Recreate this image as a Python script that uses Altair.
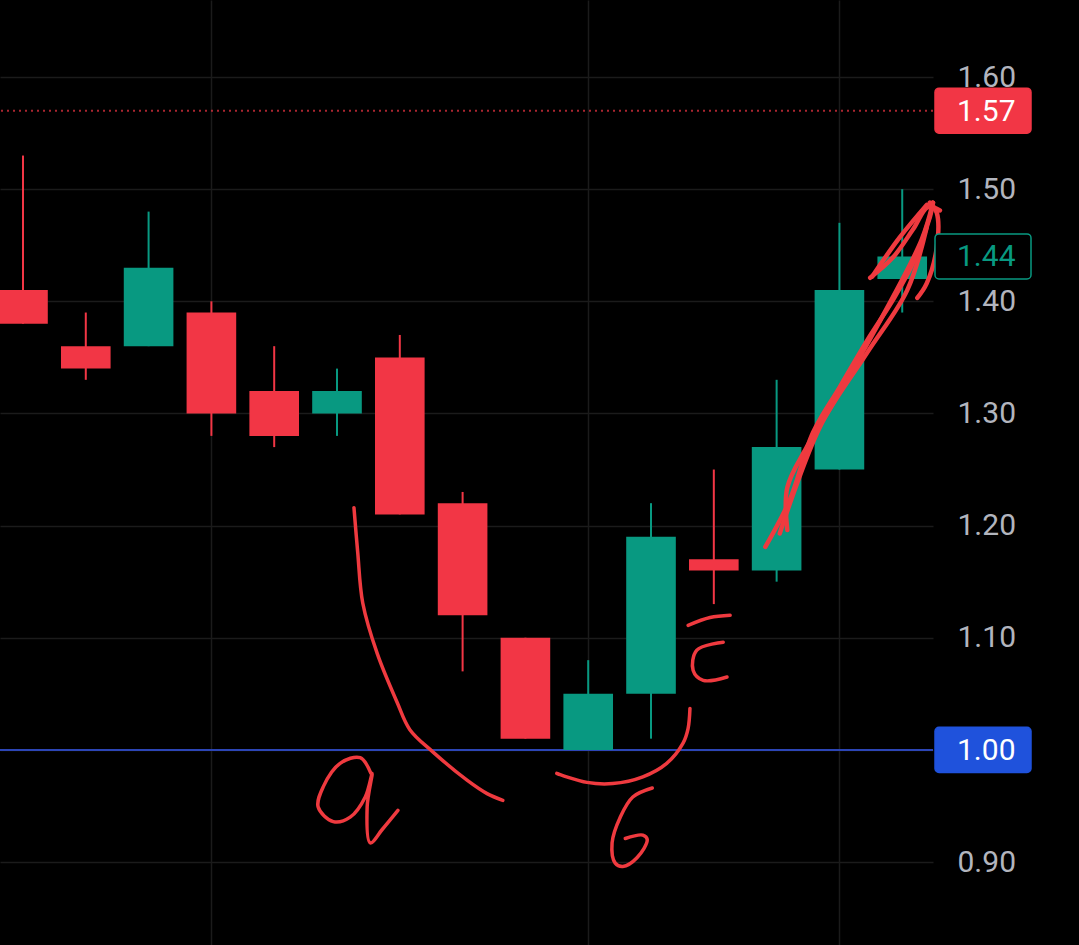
import altair as alt
import pandas as pd
import jinja2

# ---------------- data ----------------
bar_index = list(range(15))
opens  = [1.41, 1.36, 1.36, 1.39, 1.32, 1.30, 1.35, 1.22, 1.10, 1.00, 1.05, 1.17, 1.16, 1.25, 1.42]
highs  = [1.53, 1.39, 1.48, 1.40, 1.36, 1.34, 1.37, 1.23, 1.10, 1.08, 1.22, 1.25, 1.33, 1.47, 1.50]
lows   = [1.38, 1.33, 1.36, 1.28, 1.27, 1.28, 1.21, 1.07, 1.01, 1.00, 1.01, 1.13, 1.15, 1.25, 1.39]
closes = [1.38, 1.34, 1.43, 1.30, 1.28, 1.32, 1.21, 1.12, 1.01, 1.05, 1.19, 1.16, 1.27, 1.41, 1.44]

y_tick_values = [0.90, 1.00, 1.10, 1.20, 1.30, 1.40, 1.50, 1.60]
x_grid_bars = [3, 9, 13]

high_level = 1.57      # dotted line + red price tag
last_price = 1.44      # green outlined tag
support_level = 1.00   # blue line + blue tag

# hand-drawn annotation strokes, in (bar index, price) units
curve_a_x = [5.27, 5.33, 5.41, 5.64, 5.96, 6.16, 6.53, 7.07, 7.39, 7.64]
curve_a_y = [1.216, 1.176, 1.131, 1.086, 1.042, 1.018, 0.998, 0.973, 0.961, 0.955]
letter_a_x = [5.54, 5.37, 5.05, 4.78, 4.70, 4.94, 5.21, 5.45, 5.56, 5.48, 5.53, 5.72, 5.97]
letter_a_y = [0.979, 0.993, 0.988, 0.967, 0.949, 0.936, 0.940, 0.958, 0.979, 0.949, 0.917, 0.929, 0.946]
curve_b_x = [10.62, 10.59, 10.51, 10.25, 9.87, 9.39, 8.98, 8.50]
curve_b_y = [1.037, 1.019, 1.006, 0.988, 0.976, 0.970, 0.971, 0.979]
letter_b_x = [10.02, 9.71, 9.51, 9.38, 9.43, 9.55, 9.78, 9.94, 9.87, 9.59]
letter_b_y = [0.966, 0.958, 0.940, 0.917, 0.899, 0.896, 0.904, 0.920, 0.924, 0.921]
bar_c_x = [10.59, 10.94, 11.26]
bar_c_y = [1.111, 1.118, 1.120]
letter_c_x = [11.15, 10.73, 10.67, 10.83, 11.21]
letter_c_y = [1.096, 1.089, 1.071, 1.062, 1.065]
arrow1_x = [11.82, 12.21, 12.58, 13.01, 13.44, 13.85, 14.17, 14.44, 14.49]
arrow1_y = [1.181, 1.223, 1.283, 1.324, 1.365, 1.401, 1.434, 1.475, 1.488]
arrow2_x = [12.17, 12.17, 12.48, 12.96, 13.65, 14.31, 14.49]
arrow2_y = [1.196, 1.234, 1.270, 1.315, 1.383, 1.455, 1.488]
arrow3_x = [12.05, 12.69, 13.44, 14.08, 14.39]
arrow3_y = [1.193, 1.288, 1.354, 1.410, 1.466]
head1_x = [13.49, 13.85, 14.17, 14.41, 14.60]
head1_y = [1.421, 1.439, 1.464, 1.484, 1.481]
head2_x = [13.52, 13.96, 14.39]
head2_y = [1.422, 1.457, 1.486]
head3_x = [14.24, 14.39, 14.55, 14.55, 14.44]
head3_y = [1.403, 1.416, 1.448, 1.479, 1.488]

# ---------------- tables ----------------
candles = pd.DataFrame(dict(i=bar_index, open=opens, high=highs, low=lows, close=closes))


def strokes_table(strokes):
    rows = []
    for name, xs, ys in strokes:
        for k, (a, b) in enumerate(zip(xs, ys)):
            rows.append(dict(stroke=name, ord=k, ax=a, ay=b))
    return pd.DataFrame(rows)


thin_strokes = strokes_table([
    ("curve_a", curve_a_x, curve_a_y),
    ("letter_a", letter_a_x, letter_a_y),
    ("curve_b", curve_b_x, curve_b_y),
    ("letter_b", letter_b_x, letter_b_y),
    ("bar_c", bar_c_x, bar_c_y),
    ("letter_c", letter_c_x, letter_c_y),
])
arrow_strokes = strokes_table([
    ("a1", arrow1_x, arrow1_y),
    ("a2", arrow2_x, arrow2_y),
    ("a3", arrow3_x, arrow3_y),
    ("h1", head1_x, head1_y),
    ("h2", head2_x, head2_y),
    ("h3", head3_x, head3_y),
])

# ---------------- styling ----------------
RED = "#f23645"
GREEN = "#089981"
BLUE_LINE = "#2c45b5"
BLUE_TAG = "#1f52dc"
INK = "#ef3a3f"
GRID = "#1b1b1b"
FONT = "Roboto"

xs = alt.Scale(domain=[-0.366, 14.49], nice=False, zero=False)
ys = alt.Scale(domain=[0.826, 1.6687], nice=False, zero=False)
x_ax = alt.Axis(values=x_grid_bars, grid=True, labels=False, ticks=False, domain=False,
                title=None, gridColor=GRID, gridWidth=1.5)
y_ax = alt.Axis(orient="right", values=y_tick_values, format=".2f", grid=True, ticks=False,
                domain=False, title=None, labelPadding=24, labelFont=FONT, labelFontSize=30,
                labelColor="#b2b5be", labelAlign="left", labelBaseline="middle",
                gridColor=GRID, gridWidth=1.5, labelOverlap=False)

X = lambda f: alt.X(f, scale=xs, axis=x_ax)
Y = lambda f: alt.Y(f, scale=ys, axis=y_ax)
candle_color = alt.condition("datum.close >= datum.open", alt.value(GREEN), alt.value(RED))

base = alt.Chart(candles)

bodies = base.transform_calculate(
    x0="datum.i - 0.395", x1="datum.i + 0.395",
).mark_rect().encode(
    x=X("x0:Q"), x2="x1:Q", y=Y("open:Q"), y2="close:Q", color=candle_color
)
wicks = base.mark_rule(strokeWidth=2).encode(
    x=X("i:Q"), y=Y("low:Q"), y2="high:Q", color=candle_color
)

levels = pd.DataFrame(dict(v=[high_level, support_level]))
dotted = alt.Chart(pd.DataFrame(dict(v=[high_level]))).mark_rule(
    color=RED, opacity=0.7, strokeWidth=2, strokeDash=[2, 4]
).encode(y=Y("v:Q"))
blue_line = alt.Chart(pd.DataFrame(dict(v=[support_level]))).mark_rule(
    color=BLUE_LINE, strokeWidth=2
).encode(y=Y("v:Q"))

thin = alt.Chart(thin_strokes).mark_line(
    color=INK, strokeWidth=3.5, interpolate="catmull-rom", strokeCap="round", strokeJoin="round"
).encode(x=X("ax:Q"), y=Y("ay:Q"), detail="stroke:N", order="ord:Q")
arrow = alt.Chart(arrow_strokes).mark_line(
    color=INK, strokeWidth=4.5, interpolate="catmull-rom", strokeCap="round", strokeJoin="round"
).encode(x=X("ax:Q"), y=Y("ay:Q"), detail="stroke:N", order="ord:Q")


def tag(value, fill, stroke, text_color):
    d = alt.Chart(pd.DataFrame(dict(v=[value], label=[f"{value:.2f}"]))).transform_calculate(
        top="datum.v + 0.0201", bot="datum.v - 0.0201"
    )
    box = d.mark_rect(fill=fill, stroke=stroke, strokeWidth=1.5, cornerRadius=4).encode(
        x=alt.value(935), x2=alt.value(1031), y=Y("top:Q"), y2="bot:Q"
    )
    txt = d.mark_text(align="left", baseline="middle", font=FONT, fontSize=30,
                      color=text_color, dy=1).encode(
        x=alt.value(957), y=Y("v:Q"), text="label:N"
    )
    return [box, txt]


layers = [blue_line, dotted, wicks, bodies, thin, arrow]
layers += tag(high_level, RED, RED, "#ffffff")
layers += tag(last_price, "#000000", GREEN, GREEN)
layers += tag(support_level, BLUE_TAG, BLUE_TAG, "#ffffff")

chart = alt.layer(*layers).properties(
    width=933, height=945,
    padding={"left": 0, "right": 146, "top": 0, "bottom": 0},
    autosize=alt.AutoSizeParams(type="none"),
).configure(background="#000000").configure_view(stroke=None)

PAGE = jinja2.Template("""<!DOCTYPE html>
<html>
<head>
  <style>
    html, body { margin: 0; padding: 0; background: #000000; overflow: hidden; }
    #{{ output_div }}.vega-embed { width: 100%; display: flex; }
  </style>
  <script type="text/javascript" src="{{ base_url }}/vega@{{ vega_version }}"></script>
  <script type="text/javascript" src="{{ base_url }}/vega-lite@{{ vegalite_version }}"></script>
  <script type="text/javascript" src="{{ base_url }}/vega-embed@{{ vegaembed_version }}"></script>
</head>
<body>
  <div id="{{ output_div }}"></div>
  <script>
    (function(vegaEmbed) {
      var spec = {{ spec }};
      var embedOpt = {{ embed_options }};
      vegaEmbed("#{{ output_div }}", spec, embedOpt).catch(function(err) {
        document.getElementById("{{ output_div }}").innerHTML = "<pre>" + err + "</pre>";
      });
    })(vegaEmbed);
  </script>
</body>
</html>""")

chart.save("out.html", embed_options={"renderer": "svg", "actions": False}, template=PAGE)
